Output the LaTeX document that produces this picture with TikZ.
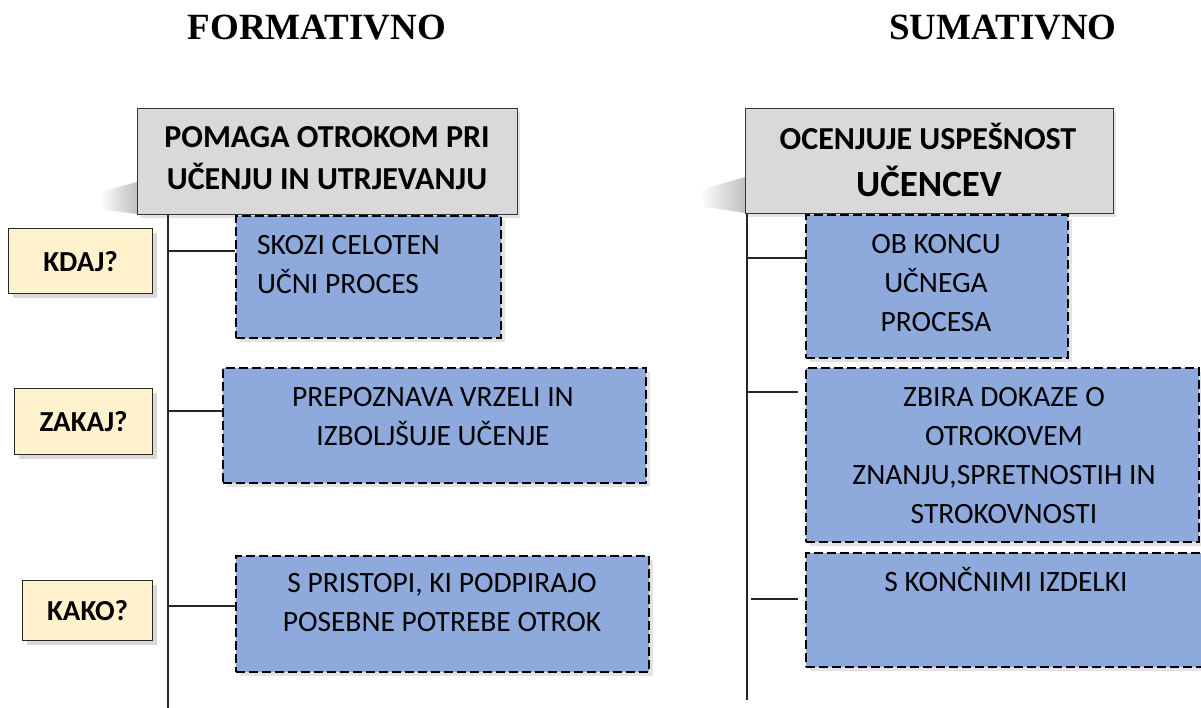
\documentclass[tikz,border=0pt]{standalone}
\usepackage{fontspec}
\setmainfont{Carlito}
\newfontfamily\titlefont{Liberation Serif}
\usetikzlibrary{shadows,fadings}
\definecolor{bluefill}{RGB}{142,169,219}
\definecolor{yellowfill}{RGB}{255,242,204}
\definecolor{grayfill}{RGB}{217,217,217}
\newcommand\tpstrut{\rule{0pt}{28pt}}
\begin{document}
\begin{tikzpicture}[x=1pt,y=-1pt,
  titletxt/.style={font=\titlefont\bfseries\fontsize{37}{40}\selectfont, anchor=base, inner sep=0},
  headbox/.style={draw=black!80, line width=1.1pt, fill=grayfill, anchor=north west, inner sep=0,
     drop shadow={opacity=0.22, shadow xshift=2pt, shadow yshift=-3pt}},
  bluebox/.style={draw=black, line width=2.4pt, dash pattern=on 9pt off 4pt, fill=bluefill,
     anchor=north west, inner sep=0, drop shadow={opacity=0.22, shadow xshift=4pt, shadow yshift=-4pt}},
  qbox/.style={draw=black!85, line width=1.2pt, fill=yellowfill, anchor=north west, inner sep=0,
     font=\bfseries\fontsize{29}{34}\selectfont,
     drop shadow={opacity=0.3, shadow xshift=4pt, shadow yshift=-4pt}},
  txt/.style={font=\fontsize{29.5}{39}\selectfont, align=center, inner sep=0, anchor=north},
  htxt/.style={font=\bfseries\fontsize{32}{42}\selectfont, align=center, inner sep=0, anchor=north},
  trunk/.style={draw=black!85, line width=1.2pt},
  link/.style={draw=black!85, line width=1.1pt}
]
\useasboundingbox (0,0) rectangle (1201,708);

% titles
\node[titletxt] (tf) at (317,40) {FORMATIVNO};
\node[titletxt] (ts) at (1003,40) {SUMATIVNO};

% perspective shadows of header boxes
\fill[black, opacity=0.25, path fading=west] (100,192) -- (137,182) -- (137,214) -- (104,210) -- cycle;
\fill[black, opacity=0.25, path fading=west] (700,190) -- (745,177) -- (745,213) -- (705,207) -- cycle;

% header boxes
\node[headbox, minimum width=380pt, minimum height=106pt] (hL) at (137,108) {};
\node[htxt] (hLt) at (327,119) {\tpstrut POMAGA OTROKOM PRI\\UČENJU IN UTRJEVANJU};
\node[headbox, minimum width=368pt, minimum height=105pt] (hR) at (745,108) {};
\node[htxt] (hRt) at (928,121) {\tpstrut OCENJUJE USPEŠNOST};
\node[htxt, font=\bfseries\fontsize{37}{42}\selectfont, anchor=base] (hRt2) at (929,197) {UČENCEV};

% question boxes
\node[qbox, minimum width=144pt, minimum height=65pt] (qk) at (8,228) {KDAJ?};
\node[qbox, minimum width=138pt, minimum height=66pt] (qz) at (14,388) {ZAKAJ?};
\node[qbox, minimum width=130pt, minimum height=60pt] (qh) at (22,580) {KAKO?};

% left trunk
\coordinate (tLb) at (168,708);
\draw[trunk] (tLb |- hL.south) -- (tLb);
% right trunk
\coordinate (tRb) at (747,700);
\draw[trunk] (tRb |- hR.south) -- (tRb);

% left blue boxes
\node[bluebox, minimum width=265pt, minimum height=122pt] (l1) at (235,215) {};
\node[txt, anchor=north west, align=left] (l1t) at (257,226) {\tpstrut SKOZI CELOTEN\\UČNI PROCES};
\node[bluebox, minimum width=423pt, minimum height=115pt] (l2) at (222,367) {};
\node[txt] (l2t) at (433,378) {\tpstrut PREPOZNAVA VRZELI IN\\IZBOLJŠUJE UČENJE};
\node[bluebox, minimum width=413pt, minimum height=116pt] (l3) at (235,555) {};
\node[txt] (l3t) at (442,564) {\tpstrut S PRISTOPI, KI PODPIRAJO\\POSEBNE POTREBE OTROK};

% right blue boxes
\node[bluebox, minimum width=262pt, minimum height=143pt] (r1) at (805,214) {};
\node[txt] (r1t) at (936,225) {\tpstrut OB KONCU\\UČNEGA\\PROCESA};
\node[bluebox, minimum width=393pt, minimum height=174pt] (r2) at (805,367) {};
\node[txt] (r2t) at (1004,378) {\tpstrut ZBIRA DOKAZE O\\OTROKOVEM\\ZNANJU,SPRETNOSTIH IN\\STROKOVNOSTI};
\node[bluebox, minimum width=400pt, minimum height=114pt] (r3) at (805,552) {};
\node[txt] (r3t) at (1006,563) {\tpstrut S KONČNIMI IZDELKI};

% connectors
\coordinate (cl1) at (168,251);
\coordinate (cl2) at (168,411);
\coordinate (cl3) at (168,606);
\draw[link] (cl1) -- (cl1 -| l1.west);
\draw[link] (cl2) -- (cl2 -| l2.west);
\draw[link] (cl3) -- (cl3 -| l3.west);
\coordinate (cr1) at (747,258);
\coordinate (cr2) at (748,392);
\coordinate (cr3) at (751,599);
\draw[link] (cr1) -- (cr1 -| r1.west);
\draw[link, shorten >=7pt] (cr2) -- (cr2 -| r2.west);
\draw[link, shorten >=7pt] (cr3) -- (cr3 -| r3.west);
\end{tikzpicture}
\end{document}
